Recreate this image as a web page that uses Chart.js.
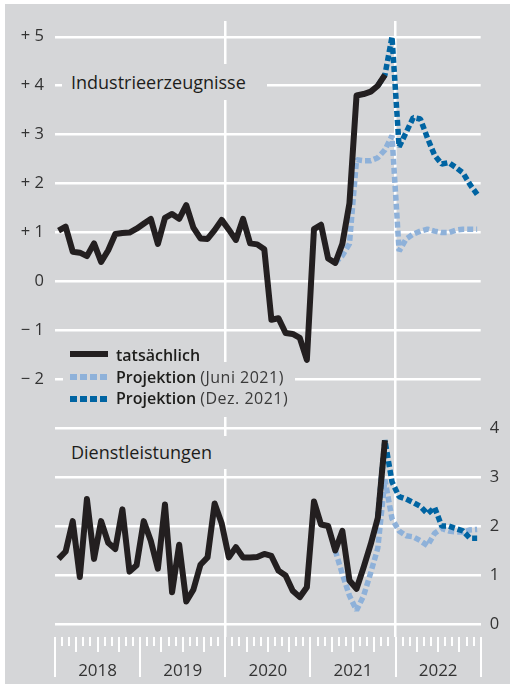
<!DOCTYPE html>
<html>
<head>
<meta charset="utf-8">
<script src="https://cdn.jsdelivr.net/npm/chart.js@4.4.1/dist/chart.umd.min.js"></script>
<style>
  html, body { margin: 0; padding: 0; background: #ffffff; }
  body { width: 510px; height: 684px; position: relative; overflow: hidden; font-family: "Open Sans", sans-serif; }
  #bg { position: absolute; left: 5px; top: 4px; width: 505px; height: 680px; background: #d5d6d8; }
  #c { position: absolute; left: 0; top: 0; }
  .box { position: absolute; background: #d5d6d8; }
  .title { font-size: 18px; color: #1d1d1b; padding-left: 9px; white-space: nowrap; }
  .lt { position: absolute; font-size: 16px; line-height: 20px; height: 20px; white-space: nowrap; color: #1d1d1b; }
  .lt b { font-weight: 600; }
  .lt span { font-weight: 400; color: #3a3a3a; letter-spacing: 0.5px; }
  .sw { position: absolute; left: 70px; width: 38px; height: 6px; }
</style>
</head>
<body>
<div id="bg"></div>
<canvas id="c" width="510" height="684"></canvas>

<div class="box title" style="left:62px; top:64px; width:196px; height:36px; line-height:36px;">Industrieerzeugnisse</div>
<div class="box title" style="left:62px; top:436px; width:161px; height:33px; line-height:33px;">Dienstleistungen</div>

<div class="box" style="left:63px; top:362px; width:232px; height:55px;"></div>
<div class="sw" style="top:351px; background:#231f20;"></div>
<div class="lt" style="left:116px; top:345px;"><b>tatsächlich</b></div>
<div class="sw" style="top:374px; background:repeating-linear-gradient(to right, #8eb1d9 0 7.5px, transparent 7.5px 10px);"></div>
<div class="lt" style="left:116px; top:366.5px;"><b>Projektion</b> <span>(Juni 2021)</span></div>
<div class="sw" style="top:396px; background:repeating-linear-gradient(to right, #0064a2 0 7.5px, transparent 7.5px 10px);"></div>
<div class="lt" style="left:116px; top:388px;"><b>Projektion</b> <span>(Dez. 2021)</span></div>

<script>
// ---- categories / tick labels ----
const years = ['2018', '2019', '2020', '2021', '2022'];
const months = [];
years.forEach(y => { for (let m = 1; m <= 12; m++) months.push(y + '-' + String(m).padStart(2, '0')); });
const topTicks = [-2, -1, 0, 1, 2, 3, 4, 5];
const bottomTicks = [0, 1, 2, 3, 4];

// ---- Industrieerzeugnisse (left axis) ----
const indActual = [1.04, 1.12, 0.61, 0.59, 0.52, 0.78, 0.40, 0.64, 0.97, 0.99, 1.00, 1.08,
  1.18, 1.28, 0.77, 1.30, 1.38, 1.28, 1.56, 1.10, 0.88, 0.87, 1.05, 1.26,
  1.06, 0.85, 1.28, 0.78, 0.76, 0.66, -0.78, -0.75, -1.05, -1.07, -1.15, -1.60,
  1.07, 1.16, 0.47, 0.38, 0.77, 1.60, 3.80, 3.83, 3.88, 4.00, 4.22,
  null, null, null, null, null, null, null, null, null, null, null, null, null];
const indProjJun = [null, null, null, null, null, null, null, null, null, null, null, null,
  null, null, null, null, null, null, null, null, null, null, null, null,
  null, null, null, null, null, null, null, null, null, null, null, null,
  null, null, null, 0.38, 0.53, 0.77, 2.49, 2.47, 2.47, 2.53, 2.69, 2.98,
  0.62, 0.87, 0.97, 1.03, 1.07, 1.03, 1.00, 1.00, 1.05, 1.07, 1.07, 1.07];
const indProjDez = [null, null, null, null, null, null, null, null, null, null, null, null,
  null, null, null, null, null, null, null, null, null, null, null, null,
  null, null, null, null, null, null, null, null, null, null, null, null,
  null, null, null, null, null, null, null, null, null, 4.00, 4.22, 5.00,
  2.75, 3.05, 3.35, 3.32, 2.93, 2.58, 2.40, 2.43, 2.33, 2.22, 1.98, 1.78];

// ---- Dienstleistungen (right axis) ----
const dlActual = [1.33, 1.48, 2.10, 0.96, 2.55, 1.33, 2.10, 1.66, 1.53, 2.34, 1.07, 1.20,
  2.10, 1.70, 1.13, 2.44, 0.65, 1.62, 0.46, 0.70, 1.21, 1.36, 2.46, 2.05,
  1.36, 1.57, 1.36, 1.36, 1.37, 1.43, 1.39, 1.09, 0.99, 0.68, 0.55, 0.75,
  2.50, 2.03, 2.00, 1.50, 1.90, 0.89, 0.72, 1.16, 1.63, 2.17, 3.75,
  null, null, null, null, null, null, null, null, null, null, null, null, null];
const dlProjJun = [null, null, null, null, null, null, null, null, null, null, null, null,
  null, null, null, null, null, null, null, null, null, null, null, null,
  null, null, null, null, null, null, null, null, null, null, null, null,
  null, null, null, 1.50, 1.02, 0.58, 0.28, 0.58, 1.05, 1.55, 2.95, 2.15,
  1.90, 1.80, 1.78, 1.70, 1.60, 1.85, 1.95, 1.90, 1.88, 1.88, 1.92, 1.93];
const dlProjDez = [null, null, null, null, null, null, null, null, null, null, null, null,
  null, null, null, null, null, null, null, null, null, null, null, null,
  null, null, null, null, null, null, null, null, null, null, null, null,
  null, null, null, null, null, null, null, null, null, 2.17, 3.75, 2.90,
  2.60, 2.55, 2.48, 2.40, 2.25, 2.38, 2.00, 2.00, 1.95, 1.90, 1.75, 1.75];

// ---- build ----
const toPts = arr => arr.map((v, i) => ({ x: i + 0.5, y: v }));
const BLACK = '#231f20', LIGHT = '#8eb1d9', DARK = '#0064a2', WHITE = '#ffffff';
const FONT = '"Open Sans", sans-serif';
Chart.defaults.font.family = FONT;

function lineDs(label, arr, axis, color, dashed, order) {
  return {
    label, data: toPts(arr), yAxisID: axis, borderColor: color, backgroundColor: color,
    borderWidth: dashed ? 5.5 : 6, pointRadius: 0, tension: 0, fill: false, order,
    borderDash: dashed ? [6, 3] : [], borderCapStyle: 'butt',
    borderJoinStyle: dashed ? 'bevel' : 'round', spanGaps: false
  };
}

const tickMarks = {
  id: 'tickMarks',
  afterDraw(chart) {
    const xs = chart.scales.x, ctx = chart.ctx, y0 = chart.chartArea.bottom;
    ctx.save();
    ctx.strokeStyle = WHITE; ctx.lineWidth = 2;
    for (let m = 0; m <= months.length; m++) {
      const x = Math.round(xs.getPixelForValue(m));
      const len = m % 12 === 0 ? 40 : (m % 3 === 0 ? 15 : 9);
      ctx.beginPath(); ctx.moveTo(x, y0); ctx.lineTo(x, y0 + len); ctx.stroke();
    }
    ctx.restore();
  }
};

new Chart(document.getElementById('c'), {
  type: 'line',
  data: {
    datasets: [
      lineDs('tatsächlich (Industrie)', indActual, 'y', BLACK, false, 0),
      lineDs('tatsächlich (Dienstl.)', dlActual, 'y2', BLACK, false, 1),
      lineDs('Projektion Dez. 2021 (Industrie)', indProjDez, 'y', DARK, true, 2),
      lineDs('Projektion Dez. 2021 (Dienstl.)', dlProjDez, 'y2', DARK, true, 3),
      lineDs('Projektion Juni 2021 (Industrie)', indProjJun, 'y', LIGHT, true, 4),
      lineDs('Projektion Juni 2021 (Dienstl.)', dlProjJun, 'y2', LIGHT, true, 5)
    ]
  },
  options: {
    responsive: false, animation: false, devicePixelRatio: 1,
    layout: { padding: { top: 15, left: 0, right: 0, bottom: 0 } },
    plugins: { legend: { display: false }, tooltip: { enabled: false } },
    scales: {
      x: {
        type: 'linear', min: 0, max: months.length,
        afterBuildTicks: s => { s.ticks = months.map((_, i) => ({ value: i })).concat([{ value: months.length }]); },
        afterFit: s => { s.height = 47; },
        border: { display: false },
        grid: {
          drawTicks: false, lineWidth: 2.5,
          color: c => (c.tick && (c.tick.value === 24 || c.tick.value === 48)) ? WHITE : 'rgba(0,0,0,0)'
        },
        ticks: {
          autoSkip: false, maxRotation: 0, minRotation: 0, padding: 24,
          color: '#333333', font: { size: 17 },
          callback: v => (v % 12 === 6) ? years[(v - 6) / 12] : ''
        }
      },
      y: {
        type: 'linear', position: 'left', min: -7.26, max: 5.324,
        afterBuildTicks: s => { s.ticks = topTicks.map(v => ({ value: v })); },
        afterFit: s => { s.width = 55; },
        border: { display: false },
        grid: { drawTicks: false, lineWidth: 2.5, color: WHITE },
        ticks: {
          padding: 11, color: '#333333', font: { size: 16.5 },
          callback: v => v > 0 ? '+ ' + v : (v < 0 ? '\u2212 ' + Math.abs(v) : '0')
        }
      },
      y2: {
        type: 'linear', position: 'right', min: -0.263, max: 12.30,
        afterBuildTicks: s => { s.ticks = bottomTicks.map(v => ({ value: v })); },
        afterFit: s => { s.width = 29.3; },
        border: { display: false },
        grid: { drawTicks: false, lineWidth: 2.5, color: WHITE },
        ticks: {
          padding: 9, color: '#333333', font: { size: 16.5 },
          callback: v => String(v)
        }
      }
    }
  },
  plugins: [tickMarks]
});
</script>
</body>
</html>
